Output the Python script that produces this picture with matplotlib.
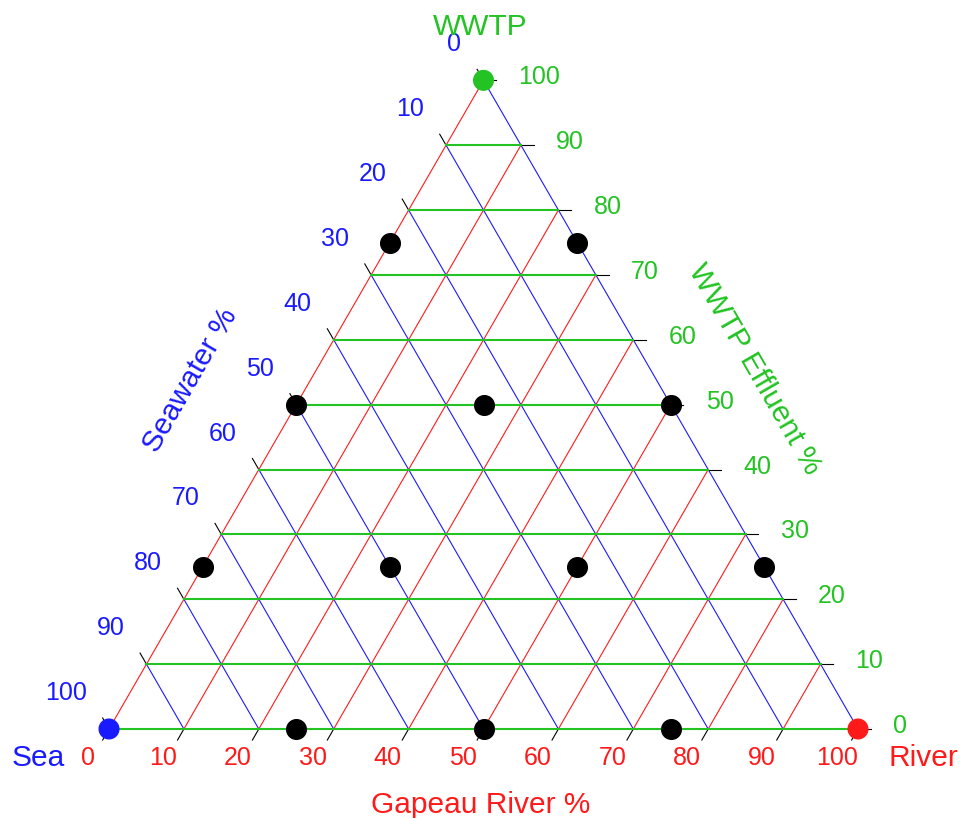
import numpy as np
import matplotlib.pyplot as plt

# Ternary compositions (%) of the sampled mixtures
sea = [25, 0, 50, 25, 0, 75, 50, 25, 0, 75, 50, 25]
river = [0, 25, 0, 25, 50, 0, 25, 50, 75, 25, 50, 75]
wwtp = [75, 75, 50, 50, 50, 25, 25, 25, 25, 0, 0, 0]

# end members
end_names = ["Sea", "River", "WWTP"]
end_sea = [100, 0, 0]
end_river = [0, 100, 0]
end_wwtp = [0, 0, 100]

ticks = list(range(0, 101, 10))

BLUE = "#1a1aff"
RED = "#ff1a1a"
GREEN = "#22c322"
H = np.sqrt(3) / 2


def tern(s, r, w):
    s, r, w = np.asarray(s, float), np.asarray(r, float), np.asarray(w, float)
    tot = s + r + w
    return (r + w / 2) / tot, (w * H) / tot


W_PX, H_PX = 964, 818
fig = plt.figure(figsize=(W_PX / 100, H_PX / 100), dpi=100)
ax = fig.add_axes([0, 0, 1, 1])
scale = 749.0
x0, y0 = 109, 818 - 729
ax.set_xlim(-x0 / scale, (W_PX - x0) / scale)
ax.set_ylim(-y0 / scale, (H_PX - y0) / scale)
ax.axis("off")

# grid lines
for v in ticks:
    if v < 100:
        # constant WWTP (green, horizontal)
        x, y = tern([100 - v, 0], [0, 100 - v], [v, v])
        ax.plot(x, y, color=GREEN, lw=1.5, zorder=3)
        # constant river (red)
        x, y = tern([100 - v, 0], [v, v], [0, 100 - v])
        ax.plot(x, y, color=RED, lw=0.8, zorder=2)
        # constant seawater (blue)
        x, y = tern([v, v], [0, 100 - v], [100 - v, 0])
        ax.plot(x, y, color=BLUE, lw=0.8, zorder=2)

tl = 0.017
pt = 0.72  # points per pixel at 100 dpi
tick_font = dict(fontsize=18, family="Liberation Sans")
for v in ticks:
    # bottom axis: river %
    bx, by = tern(100 - v, v, 0)
    ax.plot([bx, bx - tl * 0.5], [by, by - tl * H], color="black", lw=0.8, zorder=1)
    ax.annotate(str(v), (bx, by), xytext=(-21 * pt, -29 * pt), textcoords="offset points",
                ha="center", va="center", color=RED, **tick_font)
    # left axis: seawater %
    lx, ly = tern(v, 0, 100 - v)
    ax.plot([lx, lx - tl * 0.5], [ly, ly + tl * H], color="black", lw=0.8, zorder=1)
    ax.annotate(str(v), (lx, ly), xytext=(-22 * pt, 36 * pt), textcoords="offset points",
                ha="right", va="center", color=BLUE, **tick_font)
    # right axis: WWTP %
    rx, ry = tern(0, 100 - v, v)
    ax.plot([rx, rx + tl], [ry, ry], color="black", lw=0.8, zorder=1)
    ax.annotate(str(v), (rx, ry), xytext=(35 * pt, 3 * pt), textcoords="offset points",
                ha="left", va="center", color=GREEN, **tick_font)

# samples
px, py = tern(sea, river, wwtp)
ax.scatter(px, py, s=200, color="black", zorder=5)
ex, ey = tern(end_sea, end_river, end_wwtp)
ax.scatter(ex, ey, s=200, color=[BLUE, RED, GREEN], zorder=5)

# labels
lab = dict(fontsize=21.5, family="Liberation Sans")
ax.annotate(end_names[0], (ex[0], ey[0]), xytext=(-71 * pt, -29 * pt), textcoords="offset points",
            ha="center", va="center", color=BLUE, **lab)
ax.annotate(end_names[1], (ex[1], ey[1]), xytext=(65 * pt, -29 * pt), textcoords="offset points",
            ha="center", va="center", color=RED, **lab)
ax.annotate(end_names[2], (ex[2], ey[2]), xytext=(-3 * pt, 53 * pt), textcoords="offset points",
            ha="center", va="center", color=GREEN, **lab)
ax.annotate("Gapeau River %", (0.5, 0), xytext=(-3 * pt, -76 * pt), textcoords="offset points",
            ha="center", va="center", color=RED, **lab)
ax.annotate("Seawater %", (0.25, H / 2), xytext=(-106 * pt, 24 * pt), textcoords="offset points",
            ha="center", va="center", rotation=60, color=BLUE, **lab)
ax.annotate("WWTP Effluent %", (0.75, H / 2), xytext=(84 * pt, 35 * pt), textcoords="offset points",
            ha="center", va="center", rotation=-60, color=GREEN, **lab)

fig.savefig("out.png", dpi=100)
